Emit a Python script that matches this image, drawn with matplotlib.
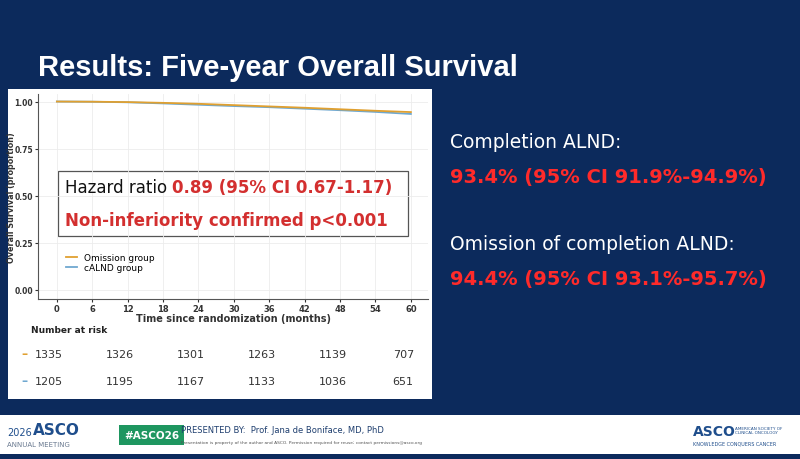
import matplotlib
matplotlib.use("Agg")
import matplotlib.pyplot as plt
import matplotlib.transforms as mtrans
from matplotlib.patches import Rectangle

months = [0, 6, 12, 18, 24, 30, 36, 42, 48, 54, 60]
omission = [1.0, 0.999, 0.997, 0.993, 0.988, 0.981, 0.974, 0.967, 0.959, 0.951, 0.944]
calnd = [1.0, 0.999, 0.996, 0.990, 0.983, 0.976, 0.970, 0.962, 0.954, 0.945, 0.934]
risk_times = [0, 12, 24, 36, 48, 60]
risk_omission = [1335, 1326, 1301, 1263, 1139, 707]
risk_calnd = [1205, 1195, 1167, 1133, 1036, 651]
yticks = [0.0, 0.25, 0.5, 0.75, 1.0]

NAVY = "#0c2a5c"
ORANGE = "#e0a030"
BLUE = "#6fa8d0"
RED = "#d32f2f"

fig = plt.figure(figsize=(8, 4.6), dpi=100)
fig.patch.set_facecolor(NAVY)

def px(x, y, w, h):
    return [x / 800, 1 - (y + h) / 460, w / 800, h / 460]

fig.patches.append(Rectangle((8 / 800, 1 - 400 / 460), 424 / 800, 310 / 460,
                             transform=fig.transFigure, facecolor="white", zorder=-10))
fig.patches.append(Rectangle((0, 1 - 455 / 460), 1, 39 / 460,
                             transform=fig.transFigure, facecolor="white", zorder=-10))

fig.text(38 / 800, 1 - 68 / 460, "Results: Five-year Overall Survival", color="white",
         fontsize=21, fontweight="bold", family="Liberation Sans", va="center")

ax = fig.add_axes(px(38, 95, 390, 205))
ax.set_zorder(1)
ax.set_facecolor("white")
ax.plot(months, calnd, color=BLUE, lw=1.3, label="cALND group")
ax.plot(months, omission, color=ORANGE, lw=1.3, label="Omission group")
ax.set_xlim(-3.2, 62.9)
ax.set_ylim(-0.048, 1.04)
ax.set_xticks(months)
ax.set_yticks(yticks)
ax.set_yticklabels([f"{v:.2f}" for v in yticks])
ax.tick_params(labelsize=5.5, length=2, pad=1.5, colors="#333333")
ax.tick_params(axis="x", labelsize=6)
for t in ax.get_xticklabels() + ax.get_yticklabels():
    t.set_fontweight("bold")
ax.grid(color="#ececec", lw=0.6)
for s in ["top", "right"]:
    ax.spines[s].set_visible(False)
ax.spines["left"].set_color("#555555")
ax.spines["bottom"].set_color("#555555")
ax.set_xlabel("Time since randomization (months)", fontsize=7, fontweight="bold", labelpad=0, color="#333333")
ax.text(-0.068, 0.5, "Overall Survival (proportion)", transform=ax.transAxes, rotation=90,
        ha="center", va="center", fontsize=5.8, fontweight="bold", color="#333333")
h, l = ax.get_legend_handles_labels()
ax.legend(h[::-1], l[::-1], loc="lower left", bbox_to_anchor=(0.06, 0.11), frameon=False, fontsize=6.5,
          handlelength=1.2, labelspacing=0.1, borderpad=0)

t1 = ax.text(0.068, 0.546, "Hazard ratio ", transform=ax.transAxes, fontsize=12, color="#111111", va="center")
ax.annotate("0.89 (95% CI 0.67-1.17)", xy=(1, 0.5), xycoords=t1,
            ha="left", va="center", fontsize=12, color=RED, fontweight="bold")
ax.text(0.068, 0.385, "Non-inferiority confirmed p<0.001", transform=ax.transAxes,
        fontsize=12, color=RED, fontweight="bold", va="center")
ax.add_patch(Rectangle((0.051, 0.307), 0.898, 0.317, transform=ax.transAxes,
                       fill=False, edgecolor="#555555", lw=0.9))

bt = mtrans.blended_transform_factory(ax.transData, fig.transFigure)
fig.text(31 / 800, 1 - 331 / 460, "Number at risk", fontsize=6.5, fontweight="bold", color="#222222", va="center")
fig.text(21 / 800, 1 - 355 / 460, "–", fontsize=9, color=ORANGE, fontweight="bold", va="center")
fig.text(21 / 800, 1 - 382 / 460, "–", fontsize=9, color=BLUE, fontweight="bold", va="center")
for t, a, b in zip(risk_times, risk_omission, risk_calnd):
    fig.text(t - 1.3, 1 - 355 / 460, str(a), transform=bt, ha="center", va="center", fontsize=8, color="#333333")
    fig.text(t - 1.3, 1 - 382 / 460, str(b), transform=bt, ha="center", va="center", fontsize=8, color="#333333")

fig.text(450 / 800, 1 - 142 / 460, "Completion ALND:", color="white", fontsize=13.5, va="center")
fig.text(450 / 800, 1 - 178 / 460, "93.4% (95% CI 91.9%-94.9%)", color="#ff2a2a",
         fontsize=14, fontweight="bold", va="center")
fig.text(450 / 800, 1 - 244 / 460, "Omission of completion ALND:", color="white", fontsize=13.5, va="center")
fig.text(450 / 800, 1 - 279 / 460, "94.4% (95% CI 93.1%-95.7%)", color="#ff2a2a",
         fontsize=14, fontweight="bold", va="center")

fig.text(7 / 800, 1 - 433 / 460, "2026", fontsize=7, color="#1f4e8c", va="center")
fig.text(33 / 800, 1 - 431 / 460, "ASCO", fontsize=11, color="#1f4e8c", fontweight="bold", va="center")
fig.text(7 / 800, 1 - 445 / 460, "ANNUAL MEETING", fontsize=5, color="#6a7a90", va="center")
fig.text(124 / 800, 1 - 436 / 460, "#ASCO26", fontsize=7.5, color="white", fontweight="bold", va="center",
         bbox=dict(boxstyle="square,pad=0.5", facecolor="#1e9660", edgecolor="none"))
fig.text(181 / 800, 1 - 431 / 460, "PRESENTED BY:  Prof. Jana de Boniface, MD, PhD", fontsize=6, color="#1f3f6f", va="center")
fig.text(181 / 800, 1 - 443 / 460, "Presentation is property of the author and ASCO. Permission required for reuse; contact permissions@asco.org",
         fontsize=3.2, color="#555555", va="center")
fig.text(693 / 800, 1 - 432 / 460, "ASCO", fontsize=10, color="#1f4e8c", fontweight="bold", va="center")
fig.text(735 / 800, 1 - 431 / 460, "AMERICAN SOCIETY OF\nCLINICAL ONCOLOGY", fontsize=3, color="#1f4e8c", va="center")
fig.text(693 / 800, 1 - 444 / 460, "KNOWLEDGE CONQUERS CANCER", fontsize=3.5, color="#1f4e8c", va="center")

fig.savefig("out.png", dpi=100, facecolor=fig.get_facecolor())
